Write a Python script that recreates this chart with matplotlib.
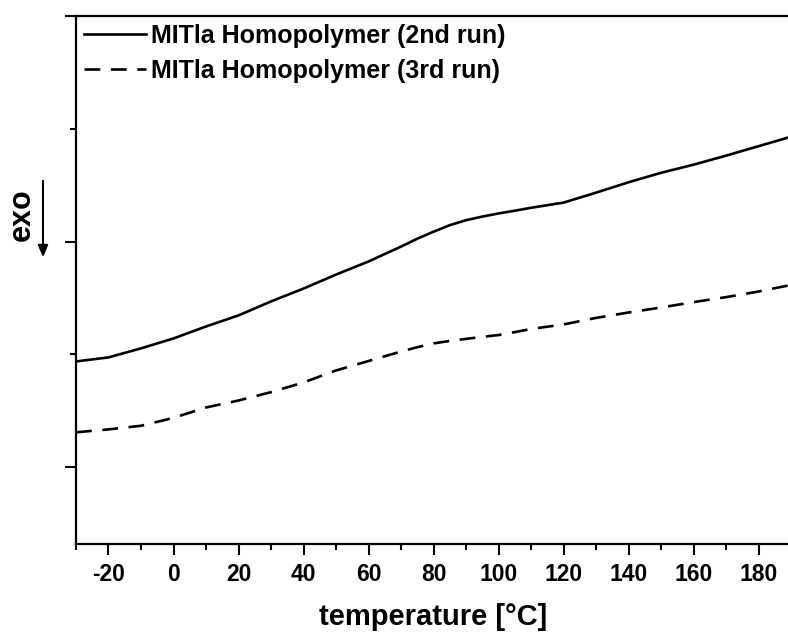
import matplotlib
matplotlib.use("Agg")
import matplotlib.pyplot as plt
from matplotlib.ticker import MultipleLocator, NullFormatter

plt.rcParams["font.family"] = ["Liberation Sans", "DejaVu Sans"]
plt.rcParams["font.weight"] = "bold"
plt.rcParams["axes.unicode_minus"] = False

# temperature grid (°C)
temperature = [-30, -20, -10, 0, 10, 20, 30, 40, 50, 60, 70, 75, 80, 85,
               90, 95, 100, 105, 110, 120, 130, 140, 150, 160, 170, 180, 190]

# heat flow, arbitrary units
run_2nd = [0.469, 0.487, 0.527, 0.571, 0.624, 0.673, 0.735, 0.792, 0.854,
           0.912, 0.978, 1.013, 1.044, 1.073, 1.095, 1.111, 1.125, 1.137,
           1.150, 1.173, 1.217, 1.263, 1.305, 1.341, 1.381, 1.423, 1.465]
run_3rd = [0.155, 0.168, 0.184, 0.219, 0.265, 0.296, 0.333, 0.376, 0.429,
           0.471, 0.513, 0.532, 0.549, 0.560, 0.569, 0.578, 0.586, 0.599,
           0.613, 0.633, 0.662, 0.686, 0.708, 0.732, 0.754, 0.779, 0.808]

labels = ["MITla Homopolymer (2nd run)", "MITla Homopolymer (3rd run)"]

fig = plt.figure(figsize=(7.88, 6.39), dpi=100)
ax = fig.add_axes([76 / 788, 95 / 639, 715 / 788, 528 / 639])

ax.plot(temperature, run_2nd, color="black", lw=1.9, label=labels[0])
ax.plot(temperature, run_3rd, color="black", lw=1.9, dashes=(6, 4), label=labels[1])

ax.set_xlim(-30, 190)
ax.set_ylim(-0.34, 2.0)

# ticks
ax.xaxis.set_major_locator(MultipleLocator(20))
ax.xaxis.set_minor_locator(MultipleLocator(10))
ax.yaxis.set_major_locator(MultipleLocator(1))
ax.yaxis.set_minor_locator(MultipleLocator(0.5))
ax.yaxis.set_major_formatter(NullFormatter())
ax.tick_params(which="major", direction="out", length=8, width=1.5, labelsize=16.5)
ax.tick_params(which="minor", direction="out", length=4.5, width=1.5)
ax.tick_params(axis="x", pad=6)

for s in ["left", "bottom", "top"]:
    ax.spines[s].set_linewidth(1.6)
ax.spines["right"].set_visible(False)

ax.set_xlabel("temperature [°C]", fontsize=21, fontweight="bold", labelpad=12)

# exo label with arrow
fig.text(22 / 788, 1 - 215 / 639, "exo", rotation=90, fontsize=22,
         fontweight="bold", ha="center", va="center")
fig.add_artist(matplotlib.patches.FancyArrowPatch(
    (43 / 788, 1 - 178 / 639), (43 / 788, 1 - 260 / 639),
    transform=fig.transFigure, arrowstyle="-|>,head_length=7,head_width=3",
    color="black", lw=1.5, mutation_scale=1))

ax.legend(loc="upper left", frameon=False, fontsize=18, handlelength=2.5,
          handletextpad=0.2, borderaxespad=0.0, labelspacing=0.45,
          borderpad=0.3)

fig.savefig("out.png", dpi=100)
